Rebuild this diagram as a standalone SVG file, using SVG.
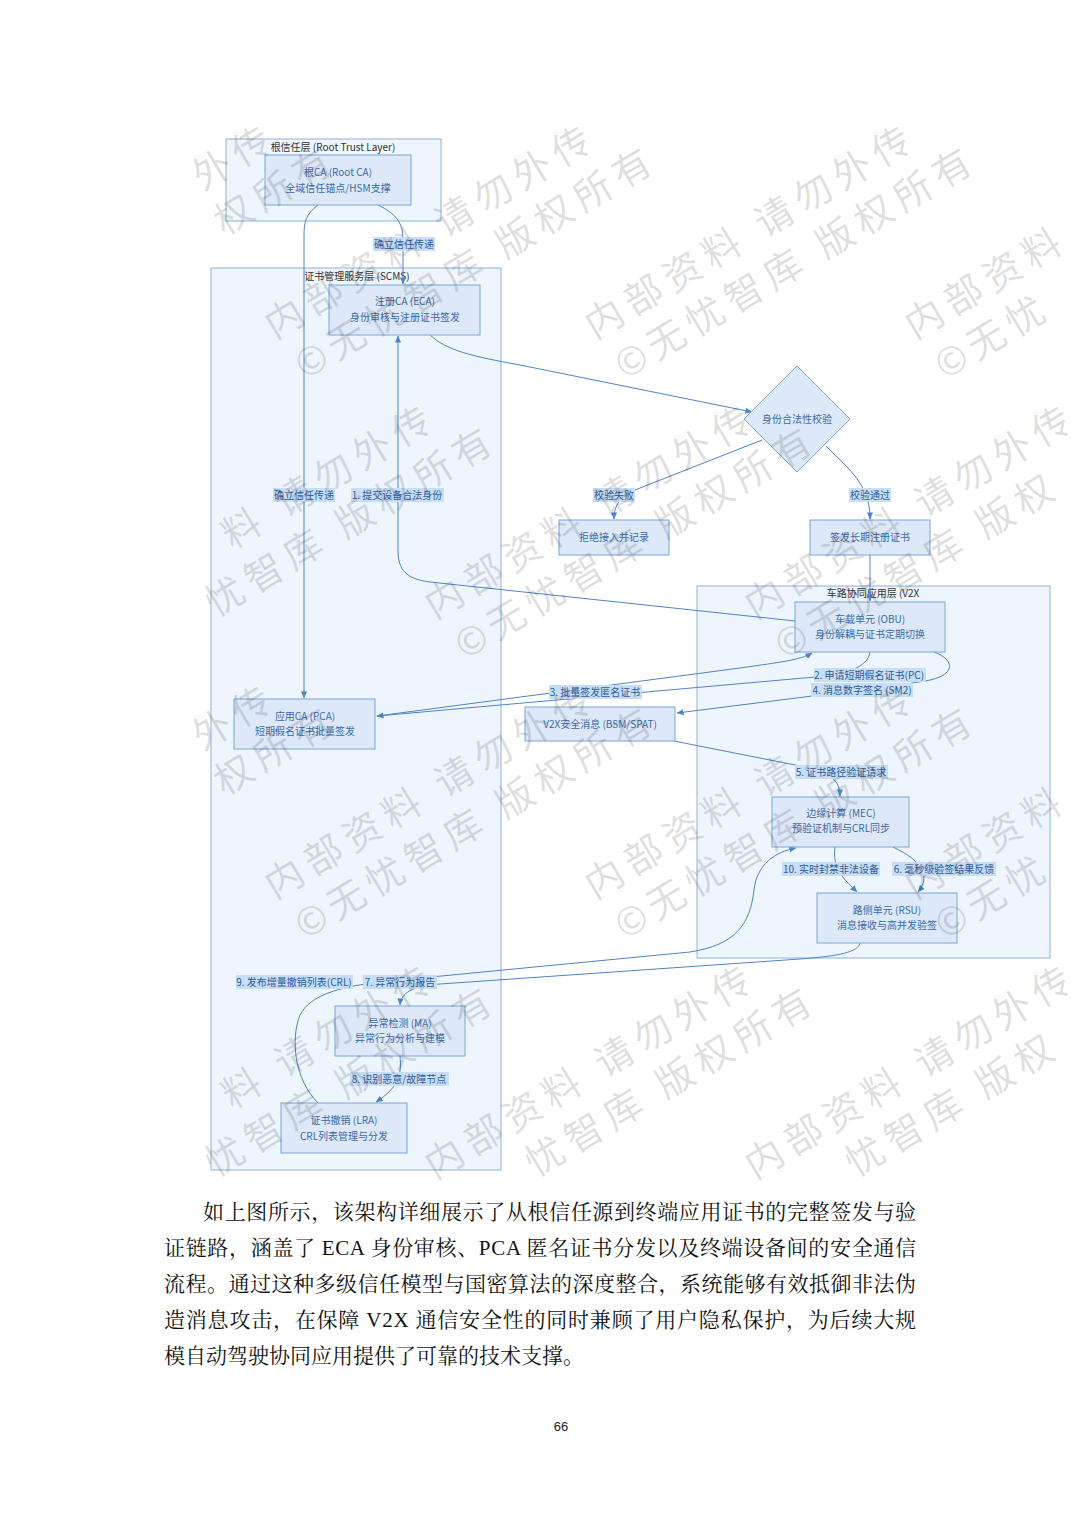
<svg xmlns="http://www.w3.org/2000/svg" width="1080" height="1528" viewBox="0 0 1080 1528">
<style>
.cl{fill:#eef5fd;stroke:#8cb2e0;stroke-width:1}
.nd{fill:#dde9f8;stroke:#7aa5d8;stroke-width:1}
.ct{font-family:"Noto Sans CJK SC","Noto Sans",sans-serif;font-size:10px;fill:#333;text-anchor:middle}
.nt{font-family:"Noto Sans CJK SC","Noto Sans",sans-serif;font-size:10px;fill:#3b69a6;text-anchor:middle}
.lb{fill:#c8def5}
.lt{font-family:"Noto Sans CJK SC","Noto Sans",sans-serif;font-size:10px;fill:#2d5b98;text-anchor:middle}
.e{fill:none;stroke:#4f84c4;stroke-width:1}
.wm text{font-family:"Noto Sans CJK SC",sans-serif;font-size:38px;fill:#000;fill-opacity:0.14}
.body{font-family:"Liberation Serif","Noto Serif CJK SC","Noto Sans CJK SC",serif;font-size:21px;fill:#111}
</style>
<defs>
<marker id="ah" viewBox="0 0 8 8" refX="7.5" refY="4" markerWidth="7" markerHeight="7" orient="auto">
<path d="M0,0.5 L8,4 L0,7.5 z" fill="#4f84c4"/>
</marker>
</defs>
<rect width="1080" height="1528" fill="#fff"/>

<g id="clusters">
<g id="cluster-root"><rect class="cl" x="226" y="139" width="215" height="82"/><text class="ct" x="333" y="151">根信任层 (Root Trust Layer)</text></g>
<g id="cluster-scms"><rect class="cl" x="211" y="268" width="290" height="902"/><text class="ct" x="357" y="280">证书管理服务层 (SCMS)</text></g>
<g id="cluster-v2x"><rect class="cl" x="697" y="586" width="353" height="372"/><text class="ct" x="873" y="597">车路协同应用层 (V2X</text></g>
</g>

<g id="connectors">
<path class="e" marker-end="url(#ah)" d="M378,205 C396,214 403,222 403,240 L403,284"/>
<path class="e" marker-end="url(#ah)" d="M318,205 C306,214 304,222 304,235 L304,698"/>
<path class="e" marker-end="url(#ah)" d="M430,335 C446,350 470,356 520,365 L752,412"/>
<path class="e" marker-end="url(#ah)" d="M762,440 L640,488 C620,496 614,505 614,519"/>
<path class="e" marker-end="url(#ah)" d="M826,446 C850,470 870,485 870,519"/>
<path class="e" marker-end="url(#ah)" d="M870,555 L870,601"/>
<path class="e" marker-end="url(#ah)" d="M795,621 L430,582 C406,579 398,570 398,550 L398,336"/>
<path class="e" marker-end="url(#ah)" d="M870,652 C868,668 845,674 815,677 L377,716"/>
<path class="e" marker-end="url(#ah)" d="M377,716 L740,668 C782,662 800,660 812,653"/>
<path class="e" marker-end="url(#ah)" d="M934,652 C956,660 956,676 925,681 C900,685 880,688 860,690 L677,713"/>
<path class="e" marker-end="url(#ah)" d="M674,741 L800,766 C830,772 840,780 840,796"/>
<path class="e" marker-end="url(#ah)" d="M835,847 C832,870 845,880 857,892"/>
<path class="e" marker-end="url(#ah)" d="M893,847 C925,862 930,878 918,892"/>
<path class="e" marker-end="url(#ah)" d="M860,943 C858,952 840,956 800,959 L440,984 C412,986 401,993 400,1005"/>
<path class="e" marker-end="url(#ah)" d="M400,1056 C402,1075 398,1088 376,1102"/>
<path class="e" marker-end="url(#ah)" d="M318,1103 C295,1080 290,1040 300,1015 C310,995 340,985 400,980 L690,952 C735,945 750,925 754,890 C757,864 775,852 796,848"/>
</g>

<g id="edge-labels">
<rect class="lb" x="373" y="237" width="62" height="14"/><text class="lt" x="404" y="248">确立信任传递</text>
<rect class="lb" x="273" y="488" width="62" height="14"/><text class="lt" x="304" y="499">确立信任传递</text>
<rect class="lb" x="351" y="488" width="93" height="14"/><text class="lt" x="397" y="499">1. 提交设备合法身份</text>
<rect class="lb" x="593" y="488" width="42" height="14"/><text class="lt" x="614" y="499">校验失败</text>
<rect class="lb" x="849" y="488" width="42" height="14"/><text class="lt" x="870" y="499">校验通过</text>
<rect class="lb" x="814" y="668" width="112" height="14"/><text class="lt" x="869" y="679">2. 申请短期假名证书(PC)</text>
<rect class="lb" x="549" y="685" width="93" height="14"/><text class="lt" x="595" y="696">3. 批量签发匿名证书</text>
<rect class="lb" x="811" y="683" width="102" height="14"/><text class="lt" x="862" y="694">4. 消息数字签名 (SM2)</text>
<rect class="lb" x="795" y="765" width="93" height="14"/><text class="lt" x="841" y="776">5. 证书路径验证请求</text>
<rect class="lb" x="782" y="862" width="98" height="14"/><text class="lt" x="831" y="873">10. 实时封禁非法设备</text>
<rect class="lb" x="892" y="862" width="104" height="14"/><text class="lt" x="944" y="873">6. 毫秒级验签结果反馈</text>
<rect class="lb" x="236" y="975" width="117" height="14"/><text class="lt" x="294" y="986">9. 发布增量撤销列表(CRL)</text>
<rect class="lb" x="363" y="975" width="74" height="14"/><text class="lt" x="400" y="986">7. 异常行为报告</text>
<rect class="lb" x="350" y="1072" width="99" height="14"/><text class="lt" x="399" y="1083">8. 识别恶意/故障节点</text>
</g>

<g id="node-rootca"><rect class="nd" x="265" y="155" width="146" height="50"/><text class="nt" x="338" y="176">根CA (Root CA)</text><text class="nt" x="338" y="192">全域信任锚点/HSM支撑</text></g>
<g id="node-eca"><rect class="nd" x="329" y="285" width="151" height="50"/><text class="nt" x="405" y="305">注册CA (ECA)</text><text class="nt" x="405" y="321">身份审核与注册证书签发</text></g>
<g id="node-check"><polygon class="nd" points="797,366 850,419 797,472 744,419"/><text class="nt" x="797" y="423">身份合法性校验</text></g>
<g id="node-reject"><rect class="nd" x="559" y="520" width="110" height="35"/><text class="nt" x="614" y="541">拒绝接入并记录</text></g>
<g id="node-longcert"><rect class="nd" x="810" y="520" width="120" height="35"/><text class="nt" x="870" y="541">签发长期注册证书</text></g>
<g id="node-obu"><rect class="nd" x="795" y="602" width="150" height="50"/><text class="nt" x="870" y="623">车载单元 (OBU)</text><text class="nt" x="870" y="638">身份解耦与证书定期切换</text></g>
<g id="node-pca"><rect class="nd" x="234" y="699" width="141" height="50"/><text class="nt" x="305" y="720">应用CA (PCA)</text><text class="nt" x="305" y="735">短期假名证书批量签发</text></g>
<g id="node-v2xmsg"><rect class="nd" x="525" y="707" width="150" height="34"/><text class="nt" x="600" y="728">V2X安全消息 (BSM/SPAT)</text></g>
<g id="node-mec"><rect class="nd" x="772" y="797" width="137" height="50"/><text class="nt" x="841" y="817">边缘计算 (MEC)</text><text class="nt" x="841" y="832">预验证机制与CRL同步</text></g>
<g id="node-rsu"><rect class="nd" x="817" y="893" width="140" height="50"/><text class="nt" x="887" y="914">路侧单元 (RSU)</text><text class="nt" x="887" y="929">消息接收与高并发验签</text></g>
<g id="node-ma"><rect class="nd" x="335" y="1006" width="130" height="50"/><text class="nt" x="400" y="1027">异常检测 (MA)</text><text class="nt" x="400" y="1042">异常行为分析与建模</text></g>
<g id="node-lra"><rect class="nd" x="281" y="1103" width="126" height="50"/><text class="nt" x="344" y="1124">证书撤销 (LRA)</text><text class="nt" x="344" y="1140">CRL列表管理与分发</text></g>

<g id="watermark" class="wm">
<g transform="translate(-45,340) rotate(-31)"><text x="289 334.5" y="0">外传</text><text x="284.5 329.8 375.1" y="50">权所有</text></g>
<g transform="translate(275,340) rotate(-31)"><text x="0 45.5 91 136.5 182 198 243.5 289 334.5" y="0">内部资料 请勿外传</text><text x="5 42.3 87.6 132.9 178.2 223.5 239.2 284.5 329.8 375.1" y="50">©无忧智库 版权所有</text></g>
<g transform="translate(595,340) rotate(-31)"><text x="0 45.5 91 136.5 182 198 243.5 289 334.5" y="0">内部资料 请勿外传</text><text x="5 42.3 87.6 132.9 178.2 223.5 239.2 284.5 329.8 375.1" y="50">©无忧智库 版权所有</text></g>
<g transform="translate(915,340) rotate(-31)"><text x="0 45.5 91 136.5" y="0">内部资料</text><text x="5 42.3 87.6" y="50">©无忧</text></g>
<g transform="translate(115,620) rotate(-31)"><text x="136.5 182 198 243.5 289 334.5" y="0">料 请勿外传</text><text x="87.6 132.9 178.2 223.5 239.2 284.5 329.8 375.1" y="50">忧智库 版权所有</text></g>
<g transform="translate(435,620) rotate(-31)"><text x="0 45.5 91 136.5 182 198 243.5 289 334.5" y="0">内部资料 请勿外传</text><text x="5 42.3 87.6 132.9 178.2 223.5 239.2 284.5 329.8 375.1" y="50">©无忧智库 版权所有</text></g>
<g transform="translate(755,620) rotate(-31)"><text x="0 45.5 91 136.5 182 198 243.5 289 334.5" y="0">内部资料 请勿外传</text><text x="5 42.3 87.6 132.9 178.2 223.5 239.2 284.5" y="50">©无忧智库 版权</text></g>
<g transform="translate(-45,900) rotate(-31)"><text x="289 334.5" y="0">外传</text><text x="284.5 329.8 375.1" y="50">权所有</text></g>
<g transform="translate(275,900) rotate(-31)"><text x="0 45.5 91 136.5 182 198 243.5 289 334.5" y="0">内部资料 请勿外传</text><text x="5 42.3 87.6 132.9 178.2 223.5 239.2 284.5 329.8 375.1" y="50">©无忧智库 版权所有</text></g>
<g transform="translate(595,900) rotate(-31)"><text x="0 45.5 91 136.5 182 198 243.5 289 334.5" y="0">内部资料 请勿外传</text><text x="5 42.3 87.6 132.9 178.2 223.5 239.2 284.5 329.8 375.1" y="50">©无忧智库 版权所有</text></g>
<g transform="translate(915,900) rotate(-31)"><text x="0 45.5 91 136.5" y="0">内部资料</text><text x="5 42.3 87.6" y="50">©无忧</text></g>
<g transform="translate(115,1180) rotate(-31)"><text x="136.5 182 198 243.5 289 334.5" y="0">料 请勿外传</text><text x="87.6 132.9 178.2 223.5 239.2 284.5 329.8 375.1" y="50">忧智库 版权所有</text></g>
<g transform="translate(435,1180) rotate(-31)"><text x="0 45.5 91 136.5 182 198 243.5 289 334.5" y="0">内部资料 请勿外传</text><text x="87.6 132.9 178.2 223.5 239.2 284.5 329.8 375.1" y="50">忧智库 版权所有</text></g>
<g transform="translate(755,1180) rotate(-31)"><text x="0 45.5 91 136.5 182 198 243.5 289 334.5" y="0">内部资料 请勿外传</text><text x="87.6 132.9 178.2 223.5 239.2 284.5" y="50">忧智库 版权</text></g>
</g>

<g id="body-text">
<text class="body" x="203" y="1219" textLength="713" lengthAdjust="spacing">如上图所示，该架构详细展示了从根信任源到终端应用证书的完整签发与验</text>
<text class="body" x="164" y="1255" textLength="752" lengthAdjust="spacing">证链路，涵盖了 ECA 身份审核、PCA 匿名证书分发以及终端设备间的安全通信</text>
<text class="body" x="164" y="1291" textLength="752" lengthAdjust="spacing">流程。通过这种多级信任模型与国密算法的深度整合，系统能够有效抵御非法伪</text>
<text class="body" x="164" y="1327" textLength="752" lengthAdjust="spacing">造消息攻击，在保障 V2X 通信安全性的同时兼顾了用户隐私保护，为后续大规</text>
<text class="body" x="164" y="1363">模自动驾驶协同应用提供了可靠的技术支撑。</text>
<text x="561" y="1431" font-family="Liberation Sans, sans-serif" font-size="13" fill="#222" text-anchor="middle">66</text>
</g>
</svg>
